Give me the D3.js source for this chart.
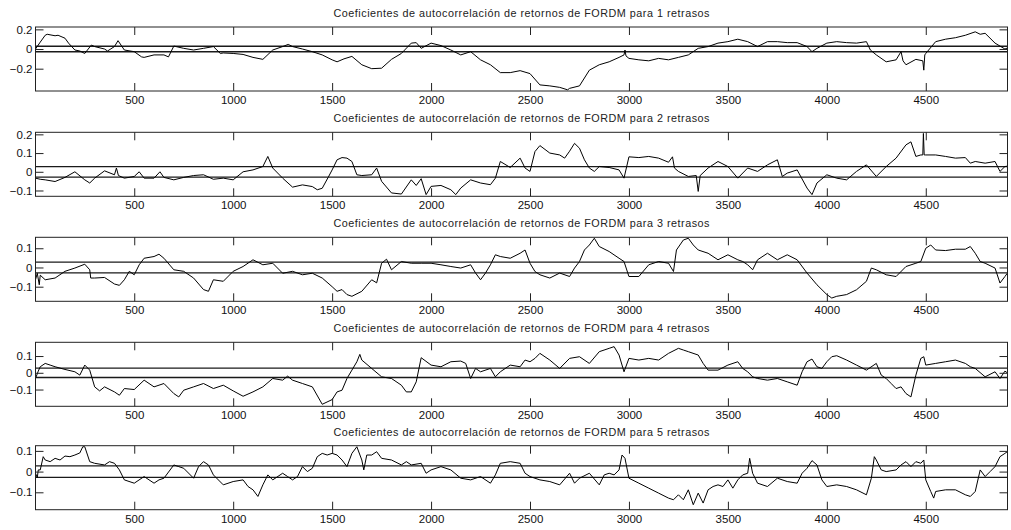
<!DOCTYPE html>
<html>
<head>
<meta charset="utf-8">
<script src="https://cdn.jsdelivr.net/npm/d3@7/dist/d3.min.js"></script>
<style>
  html, body { margin: 0; padding: 0; background: #fff; }
  svg { display: block; }
  text { font-family: "Liberation Sans", Arial, sans-serif; fill: #111; }
</style>
</head>
<body>
<svg id="chart" width="1011" height="530"></svg>
<script>
// Rolling autocorrelation coefficients of FORDM returns, lags 1..5: [observation, coefficient]
const lag1 = [[1,0],[25,0.07],[50,0.14],[60,0.15],[100,0.135],[115,0.14],[150,0.11],[168,0.06],[200,-0.01],[225,-0.02],[250,-0.045],[283,0.04],[300,0.025],[350,0],[365,-0.02],[400,0.025],[418,0.085],[450,-0.01],[500,-0.027],[537,-0.08],[550,-0.085],[600,-0.06],[650,-0.06],[673,-0.08],[700,0.03],[750,0.007],[800,-0.01],[850,0.007],[900,0.025],[935,-0.045],[950,-0.04],[1000,-0.045],[1050,-0.055],[1100,-0.085],[1150,-0.105],[1200,-0.01],[1250,0.025],[1278,0.047],[1300,0.025],[1350,0],[1400,-0.027],[1450,-0.06],[1500,-0.11],[1525,-0.13],[1560,-0.1],[1600,-0.075],[1650,-0.16],[1700,-0.2],[1750,-0.195],[1800,-0.105],[1850,-0.045],[1900,0.06],[1925,0.065],[1950,0.007],[2000,0.06],[2050,0.035],[2100,-0.01],[2150,-0.06],[2200,-0.027],[2250,-0.11],[2300,-0.16],[2350,-0.24],[2400,-0.24],[2450,-0.22],[2500,-0.25],[2550,-0.365],[2600,-0.375],[2650,-0.39],[2690,-0.415],[2700,-0.4],[2750,-0.375],[2800,-0.215],[2850,-0.16],[2900,-0.13],[2950,-0.085],[2975,-0.06],[2980,-0.01],[2985,-0.07],[3000,-0.095],[3050,-0.11],[3100,-0.12],[3150,-0.095],[3200,-0.11],[3250,-0.085],[3300,-0.06],[3350,0.007],[3400,0.025],[3450,0.06],[3500,0.075],[3550,0.1],[3600,0.075],[3650,0.025],[3700,0.075],[3750,0.075],[3800,0.065],[3850,0.065],[3900,0.025],[3925,-0.027],[3950,0.007],[4000,0.06],[4050,0.075],[4100,0.065],[4150,0.06],[4200,0.075],[4220,-0.01],[4250,-0.06],[4300,-0.13],[4350,-0.11],[4375,-0.027],[4385,-0.12],[4400,-0.16],[4450,-0.105],[4485,-0.12],[4490,-0.215],[4495,-0.06],[4500,-0.045],[4550,0.075],[4600,0.1],[4650,0.115],[4700,0.14],[4750,0.175],[4775,0.15],[4800,0.16],[4850,0.06],[4900,0],[4912,0.01]];

const lag2 = [[1,-0.034],[25,-0.04],[50,-0.043],[100,-0.052],[150,-0.03],[200,0],[250,-0.043],[275,-0.06],[300,-0.034],[350,0.005],[400,-0.016],[410,0.02],[420,-0.02],[450,-0.034],[500,-0.025],[525,0],[550,-0.034],[600,-0.034],[630,0],[650,-0.03],[700,-0.043],[750,-0.03],[800,-0.02],[850,-0.016],[900,-0.04],[950,-0.034],[1000,-0.043],[1050,0],[1100,0.01],[1150,0.028],[1175,0.082],[1200,0.02],[1250,-0.034],[1300,-0.082],[1350,-0.07],[1400,-0.079],[1425,-0.096],[1450,-0.088],[1480,-0.03],[1500,0.01],[1525,0.064],[1550,0.076],[1575,0.073],[1600,0.055],[1625,-0.016],[1650,-0.02],[1700,-0.016],[1725,0.02],[1750,-0.051],[1800,-0.113],[1850,-0.119],[1900,-0.043],[1925,-0.073],[1950,-0.037],[1975,-0.122],[2000,-0.078],[2050,-0.073],[2100,-0.096],[2125,-0.122],[2150,-0.087],[2200,-0.043],[2250,-0.06],[2300,-0.069],[2325,-0.034],[2350,0.055],[2400,0.023],[2450,0.073],[2475,0.02],[2500,0.002],[2525,0.108],[2550,0.14],[2600,0.1],[2650,0.09],[2675,0.073],[2700,0.11],[2725,0.152],[2750,0.126],[2775,0.064],[2800,0.02],[2825,0.002],[2850,0.028],[2900,0.023],[2950,0.01],[2975,-0.034],[3000,0.08],[3050,0.076],[3100,0.082],[3150,0.073],[3200,0.051],[3220,0.08],[3230,0.02],[3250,0.002],[3300,-0.025],[3340,-0.02],[3350,-0.105],[3360,-0.02],[3400,0.02],[3450,0.055],[3500,0.028],[3550,-0.034],[3600,0.02],[3650,0.002],[3700,0.037],[3750,0.064],[3775,-0.025],[3800,-0.007],[3850,0.01],[3900,-0.087],[3925,-0.122],[3950,-0.06],[4000,-0.016],[4050,-0.034],[4100,-0.043],[4150,0.002],[4200,0.037],[4250,-0.025],[4300,0.028],[4350,0.073],[4400,0.144],[4425,0.16],[4450,0.082],[4475,0.09],[4485,0.09],[4488,0.205],[4492,0.09],[4500,0.09],[4550,0.09],[4600,0.082],[4650,0.073],[4700,0.076],[4725,0.046],[4750,0.055],[4800,0.046],[4850,0.055],[4875,0.002],[4900,0.028],[4912,0.03]];

const lag3 = [[1,-0.064],[10,-0.03],[20,-0.09],[25,-0.04],[50,-0.064],[100,-0.055],[150,-0.02],[200,-0.003],[250,0.017],[275,-0.012],[280,-0.055],[300,-0.055],[350,-0.052],[400,-0.086],[425,-0.093],[450,-0.064],[475,-0.02],[500,-0.038],[525,0.014],[550,0.048],[600,0.057],[625,0.069],[650,0.048],[700,-0.012],[750,-0.02],[800,-0.055],[850,-0.115],[875,-0.124],[900,-0.064],[950,-0.072],[1000,-0.02],[1050,0.005],[1100,0.04],[1150,0.014],[1200,0.022],[1250,-0.03],[1300,-0.02],[1350,-0.038],[1400,-0.03],[1450,-0.055],[1500,-0.1],[1525,-0.124],[1550,-0.115],[1575,-0.141],[1600,-0.15],[1650,-0.124],[1700,-0.064],[1725,-0.08],[1750,0.022],[1775,0.043],[1800,-0.012],[1850,0.031],[1900,0.022],[1950,0.022],[2000,0.022],[2050,0.014],[2100,0.005],[2150,-0.003],[2200,0.014],[2225,-0.029],[2250,-0.064],[2275,-0.029],[2300,0.014],[2325,0.066],[2350,0.057],[2400,0.048],[2450,0.074],[2475,0.091],[2500,0.022],[2525,-0.021],[2550,-0.038],[2600,-0.055],[2650,-0.029],[2700,-0.047],[2725,-0.003],[2750,0.031],[2775,0.091],[2800,0.117],[2825,0.152],[2850,0.109],[2900,0.083],[2950,0.048],[2975,0.031],[3000,-0.047],[3050,-0.047],[3100,0.014],[3150,0.031],[3200,0.022],[3225,-0.021],[3240,0.091],[3275,0.143],[3300,0.152],[3325,0.117],[3350,0.091],[3400,0.074],[3450,0.04],[3500,0.066],[3550,0.04],[3575,0.031],[3600,0.014],[3625,-0.012],[3650,0.04],[3700,0.074],[3750,0.04],[3800,0.066],[3850,0.04],[3900,-0.029],[3950,-0.09],[4000,-0.141],[4025,-0.159],[4050,-0.15],[4100,-0.141],[4150,-0.116],[4200,-0.072],[4225,-0.003],[4250,-0.012],[4300,-0.038],[4350,-0.047],[4400,0.005],[4450,0.022],[4475,0.031],[4500,0.1],[4525,0.117],[4550,0.091],[4600,0.088],[4650,0.095],[4700,0.095],[4725,0.109],[4750,0.074],[4775,0.031],[4800,0.022],[4850,-0.003],[4875,-0.081],[4900,-0.047],[4912,-0.03]];

const lag4 = [[1,-0.034],[15,0.01],[25,0.036],[50,0.056],[75,0.046],[100,0.036],[150,0.02],[200,0.006],[225,-0.014],[250,0.046],[275,0.016],[300,-0.084],[325,-0.108],[350,-0.084],[400,-0.114],[425,-0.134],[450,-0.094],[500,-0.1],[550,-0.044],[600,-0.084],[650,-0.064],[700,-0.124],[725,-0.144],[750,-0.104],[800,-0.084],[850,-0.064],[900,-0.094],[950,-0.074],[1000,-0.108],[1050,-0.14],[1100,-0.114],[1150,-0.084],[1200,-0.034],[1250,-0.044],[1275,-0.02],[1300,-0.044],[1350,-0.064],[1400,-0.084],[1450,-0.188],[1500,-0.16],[1525,-0.114],[1550,-0.104],[1575,-0.034],[1600,0.016],[1625,0.066],[1640,0.11],[1650,0.076],[1700,0.026],[1750,-0.024],[1800,-0.034],[1850,-0.074],[1875,-0.114],[1900,-0.114],[1925,-0.054],[1950,0.09],[2000,0.046],[2050,0.036],[2100,0.066],[2150,0.07],[2175,0.056],[2200,-0.034],[2225,0.026],[2250,0.006],[2300,0.026],[2325,-0.024],[2350,0.006],[2400,0.046],[2450,0.036],[2475,0.076],[2500,0.066],[2525,0.086],[2550,0.116],[2600,0.076],[2650,0.026],[2700,0.086],[2750,0.096],[2800,0.056],[2850,0.126],[2900,0.146],[2925,0.156],[2950,0.106],[2975,0.006],[3000,0.086],[3050,0.076],[3100,0.086],[3150,0.076],[3200,0.116],[3250,0.146],[3275,0.136],[3300,0.126],[3350,0.106],[3375,0.056],[3400,0.016],[3450,0.016],[3500,0.046],[3550,0.066],[3575,0.026],[3600,0.006],[3625,-0.024],[3650,-0.034],[3700,-0.044],[3750,-0.034],[3800,-0.054],[3850,-0.074],[3875,0.006],[3900,0.066],[3925,0.082],[3950,0.036],[3975,0.026],[4000,0.066],[4025,0.096],[4050,0.102],[4100,0.076],[4150,0.046],[4200,0.016],[4250,0.056],[4275,-0.014],[4300,-0.034],[4325,-0.064],[4350,-0.094],[4375,-0.084],[4400,-0.124],[4425,-0.144],[4450,-0.014],[4475,0.086],[4490,0.096],[4500,0.046],[4550,0.056],[4600,0.066],[4650,0.076],[4700,0.056],[4725,0.036],[4750,0.026],[4800,-0.024],[4850,0.006],[4875,-0.034],[4900,0.01],[4912,0]];

const lag5 = [[1,-0.008],[10,-0.03],[15,0.008],[25,0.008],[40,0.072],[50,0.056],[75,0.048],[100,0.064],[125,0.056],[150,0.075],[175,0.072],[200,0.08],[225,0.09],[240,0.12],[250,0.12],[275,0.048],[300,0.04],[350,0.032],[375,0.048],[400,0.04],[425,0.008],[450,-0.04],[500,-0.056],[550,-0.024],[600,-0.056],[625,-0.04],[650,-0.032],[700,0.032],[725,0.024],[750,0.016],[800,-0.032],[825,0.024],[850,0.048],[875,0.032],[900,-0.016],[950,-0.064],[1000,-0.048],[1050,-0.04],[1075,-0.072],[1100,-0.088],[1125,-0.12],[1150,-0.064],[1175,-0.016],[1200,-0.04],[1250,-0.008],[1275,-0.024],[1300,-0.04],[1325,-0.024],[1350,0.024],[1375,0],[1400,0.016],[1425,0.072],[1450,0.088],[1475,0.08],[1500,0.088],[1525,0.08],[1550,0.056],[1575,0.024],[1600,0.088],[1625,0.12],[1650,0.056],[1660,0.008],[1675,0.08],[1700,0.08],[1725,0.096],[1750,0.064],[1800,0.056],[1850,0.032],[1875,0.048],[1900,0.032],[1950,0.04],[1975,-0.008],[2000,0.008],[2050,0.024],[2100,0.008],[2150,-0.032],[2200,-0.04],[2250,-0.024],[2300,-0.056],[2325,-0.016],[2350,0.04],[2400,0.048],[2450,0.04],[2475,-0.008],[2500,-0.024],[2550,-0.04],[2600,-0.048],[2650,-0.064],[2700,-0.008],[2725,-0.056],[2750,-0.032],[2800,-0.008],[2850,-0.064],[2875,-0.016],[2900,-0.008],[2925,-0.016],[2950,0.008],[2965,0.08],[2980,0.064],[3000,-0.032],[3050,-0.056],[3100,-0.08],[3150,-0.104],[3200,-0.128],[3225,-0.136],[3250,-0.112],[3275,-0.136],[3300,-0.088],[3325,-0.16],[3350,-0.104],[3375,-0.152],[3400,-0.088],[3425,-0.072],[3450,-0.064],[3475,-0.072],[3500,-0.04],[3525,-0.08],[3550,-0.04],[3575,-0.016],[3600,-0.008],[3610,0.064],[3625,-0.008],[3650,-0.056],[3700,-0.072],[3750,-0.032],[3800,-0.048],[3850,-0.056],[3875,-0.008],[3900,0.016],[3925,0.053],[3950,0.032],[3975,-0.04],[4000,-0.072],[4050,-0.064],[4100,-0.072],[4150,-0.088],[4200,-0.112],[4225,-0.032],[4240,0.072],[4250,0.056],[4275,0.008],[4300,0],[4350,0.008],[4375,0.032],[4400,0.048],[4425,0.024],[4450,0.048],[4475,0.04],[4490,0.056],[4500,-0.04],[4525,-0.096],[4540,-0.128],[4550,-0.096],[4600,-0.088],[4650,-0.088],[4700,-0.112],[4725,-0.12],[4750,-0.096],[4775,0.008],[4800,-0.024],[4825,0],[4850,0.024],[4875,0.072],[4900,0.088],[4912,0.096]];

const series = [lag1, lag2, lag3, lag4, lag5];
const lagNumbers = [1, 2, 3, 4, 5];

// axis limits and tick values
const xDomain = [1, 4913];
const xTicks = [500, 1000, 1500, 2000, 2500, 3000, 3500, 4000, 4500];
const yDomains = [[-0.427, 0.224], [-0.131, 0.211], [-0.176, 0.157], [-0.2, 0.182], [-0.184, 0.125]];
const yTicks = [[-0.2, 0, 0.2], [-0.1, 0, 0.1, 0.2], [-0.1, 0, 0.1], [-0.1, 0, 0.1], [-0.1, 0, 0.1]];
const confBound = 0.028;   // ± significance band

// layout
const left = 35.5, right = 1007.5;
const panelTops = [27, 132.3, 237.3, 342.3, 445.7];
const panelHeight = 64;
const tickLen = 8;
const titleWidth = 376;

const svg = d3.select("#chart");
const x = d3.scaleLinear().domain(xDomain).range([left, right]);

const fmtX = d3.format("d");
const fmtY = v => v === 0 ? "0" : d3.format(".1f")(v);

series.forEach((data, i) => {
  const top = panelTops[i], bottom = top + panelHeight;
  const y = d3.scaleLinear().domain(yDomains[i]).range([bottom, top]);
  const g = svg.append("g");

  // title
  g.append("text")
    .attr("x", (left + right) / 2)
    .attr("y", top - 10)
    .attr("text-anchor", "middle")
    .attr("textLength", titleWidth)
    .attr("lengthAdjust", "spacing")
    .style("font-size", "10.8px")
    .style("fill", "#222")
    .text(`Coeficientes de autocorrelación de retornos de FORDM para ${lagNumbers[i]} retrasos`);

  // clip for the plot area
  const clipId = "clip" + i;
  g.append("clipPath").attr("id", clipId)
    .append("rect").attr("x", left).attr("y", top)
    .attr("width", right - left).attr("height", panelHeight);

  const plot = g.append("g").attr("clip-path", `url(#${clipId})`);

  // confidence band lines
  [confBound, -confBound].forEach(c => {
    plot.append("line")
      .attr("x1", left).attr("x2", right)
      .attr("y1", y(c)).attr("y2", y(c))
      .attr("stroke", "#1a1a1a").attr("stroke-width", 1.3);
  });

  // coefficient line
  const line = d3.line().x(d => x(d[0])).y(d => y(d[1]));
  plot.append("path")
    .datum(data)
    .attr("fill", "none")
    .attr("stroke", "#000")
    .attr("stroke-width", 1)
    .attr("stroke-linejoin", "round")
    .attr("d", line);

  // axes with inward ticks on all four sides
  const axB = g.append("g").attr("transform", `translate(0,${bottom})`)
    .call(d3.axisBottom(x).tickValues(xTicks).tickSizeInner(-tickLen).tickSizeOuter(0).tickPadding(5).tickFormat(fmtX));
  const axT = g.append("g").attr("transform", `translate(0,${top})`)
    .call(d3.axisTop(x).tickValues(xTicks).tickSizeInner(-tickLen).tickSizeOuter(0).tickFormat(""));
  const axL = g.append("g").attr("transform", `translate(${left},0)`)
    .call(d3.axisLeft(y).tickValues(yTicks[i]).tickSizeInner(-tickLen).tickSizeOuter(0).tickPadding(3).tickFormat(fmtY));
  const axR = g.append("g").attr("transform", `translate(${right},0)`)
    .call(d3.axisRight(y).tickValues(yTicks[i]).tickSizeInner(-tickLen).tickSizeOuter(0).tickFormat(""));

  [axB, axT, axL, axR].forEach(a => {
    a.select(".domain").remove();
    a.selectAll(".tick line").attr("stroke", "#222").attr("stroke-width", 1);
    a.selectAll("text").style("font-size", "11.5px")
      .style("font-family", "'Liberation Sans', Arial, sans-serif").attr("fill", "#111");
  });

  // axes box
  g.append("rect")
    .attr("x", left).attr("y", top)
    .attr("width", right - left).attr("height", panelHeight)
    .attr("fill", "none").attr("stroke", "#222").attr("stroke-width", 1);
});
</script>
</body>
</html>
